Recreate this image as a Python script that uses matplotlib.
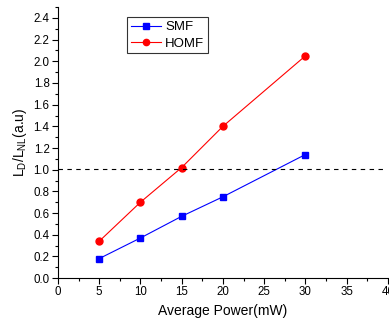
import matplotlib
matplotlib.use("Agg")
import matplotlib.pyplot as plt
from matplotlib.ticker import MultipleLocator

plt.rcParams['font.family'] = ['Liberation Sans', 'DejaVu Sans']

power = [5, 10, 15, 20, 30]
smf = [0.18, 0.37, 0.57, 0.75, 1.14]
homf = [0.34, 0.70, 1.02, 1.40, 2.05]
threshold = 1.01

fig = plt.figure(figsize=(3.89, 3.23), dpi=100)
ax = fig.add_axes([0.149, 0.139, 0.848, 0.839])

ax.plot(power, smf, color='blue', marker='s', markersize=4.3, linewidth=0.8, label='SMF')
ax.plot(power, homf, color='red', marker='o', markersize=5, linewidth=0.8, label='HOMF')
ax.axhline(threshold, color='black', linestyle=(0, (4, 4)), linewidth=0.8, xmax=0.985)

ax.set_xlim(0, 40)
ax.set_ylim(0, 2.5)
ax.xaxis.set_minor_locator(MultipleLocator(2.5))
ax.yaxis.set_minor_locator(MultipleLocator(0.1))
ax.set_xticks([0, 5, 10, 15, 20, 25, 30, 35, 40])
ax.set_xticklabels(['0', '5', '10', '15', '20', '25', '30', '35', '40'])
yt = [0.0, 0.2, 0.4, 0.6, 0.8, 1.0, 1.2, 1.4, 1.6, 1.8, 2.0, 2.2, 2.4]
ax.set_yticks(yt)
ax.set_yticklabels([f'{v:.1f}' for v in yt])

for s in ['top', 'right']:
    ax.spines[s].set_visible(False)
ax.tick_params(axis='both', which='major', direction='out', length=4, width=0.8, labelsize=8.3, pad=2)
ax.tick_params(axis='both', which='minor', direction='out', length=2.5, width=0.8)

ax.set_xlabel('Average Power(mW)', fontsize=10, labelpad=4)
ax.set_ylabel(r'L$_\mathregular{D}$/L$_\mathregular{NL}$(a.u)', fontsize=10, labelpad=3)

leg = ax.legend(loc='upper left', bbox_to_anchor=(0.209, 0.963), fontsize=9.5, frameon=True,
                fancybox=False, edgecolor='black', handlelength=2.3, borderpad=0.3,
                labelspacing=0.3, handletextpad=0.3, borderaxespad=0,
                markerscale=0.9)
leg.get_frame().set_linewidth(0.8)
leg._legend_box.align = 'left'

fig.savefig('out.png', dpi=100)
